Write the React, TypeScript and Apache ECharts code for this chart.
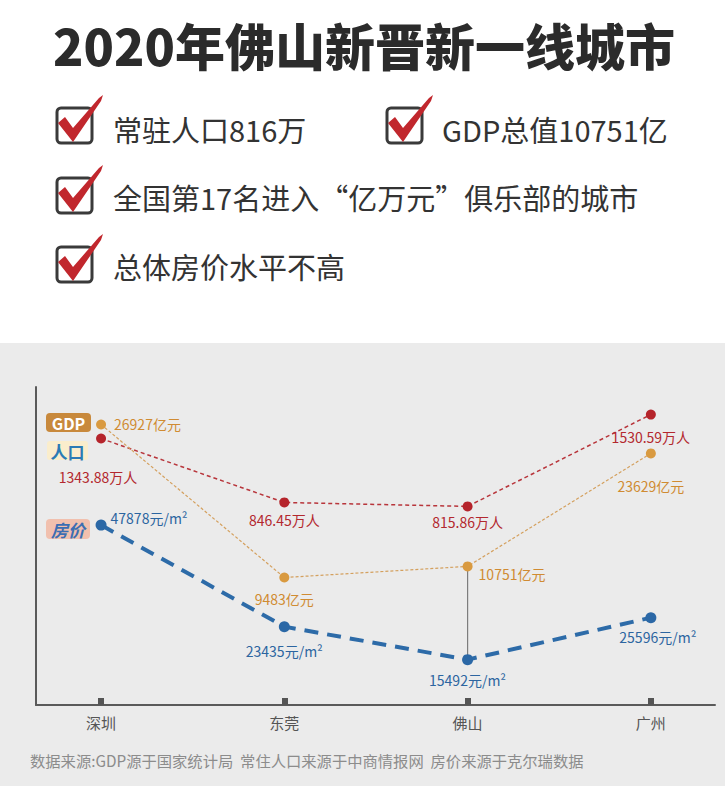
import React, { useEffect, useRef } from "react";
import * as echarts from "echarts";

const TITLE = "2020年佛山新晋新一线城市";
const CHECK_ITEMS = ["常驻人口816万", "GDP总值10751亿", "全国第17名进入“亿万元”俱乐部的城市", "总体房价水平不高"];
const CATEGORIES = ["深圳", "东莞", "佛山", "广州"];
const POPULATION = [1343.88, 846.45, 815.86, 1530.59]; // 万人
const GDP = [26927, 9483, 10751, 23629]; // 亿元
const PRICE = [47878, 23435, 15492, 25596]; // 元/m²
const SERIES_TAGS = ["GDP", "人口", "房价"];
const SOURCE = "数据来源:GDP源于国家统计局  常住人口来源于中商情报网  房价来源于克尔瑞数据";

const FONT = '"Noto Sans CJK SC", "Noto Sans", sans-serif';

const POP_MIN = -730, POP_MAX = 1745;
const GDP_MIN = -5050, GDP_MAX = 31200;
const PRICE_MIN = 4570, PRICE_MAX = 81130;

const POP_LABELS: any[] = [
  { position: "bottom", distance: 26, offset: [-3, 0] },
  { position: "bottom", distance: 6 },
  { position: "bottom", distance: 4 },
  { position: "bottom", distance: 10 },
];
const GDP_LABELS: any[] = [
  { position: "right", distance: 8 },
  { position: "bottom", distance: 9 },
  { position: "right", distance: 6, offset: [0, 8] },
  { position: "bottom", distance: 21 },
];
const PRICE_LABELS: any[] = [
  { position: "right", distance: 4, offset: [0, -7] },
  { position: "bottom", distance: 12 },
  { position: "bottom", distance: 8 },
  { position: "bottom", distance: 7, offset: [7, 0] },
];

function checkbox(bx: number, by: number) {
  return [
    {
      type: "rect",
      shape: { x: bx, y: by, width: 35, height: 35, r: 4 },
      style: { fill: "none", stroke: "#3a3a3a", lineWidth: 3 },
    },
    {
      type: "polygon",
      shape: {
        points: [
          [bx + 1, by + 15],
          [bx + 8, by + 9],
          [bx + 16, by + 20],
          [bx + 42, by - 10],
          [bx + 46, by - 13],
          [bx + 44, by - 7],
          [bx + 16, by + 34],
        ],
      },
      style: { fill: "#c1272d" },
    },
  ];
}

function txt(x: number, y: number, text: string, font: string, fill: string, align = "left", extra: any = {}) {
  return {
    type: "text",
    x,
    y,
    style: {
      text,
      font,
      fill,
      align,
      textAlign: align,
      verticalAlign: "middle",
      textVerticalAlign: "middle",
      ...extra,
    },
  };
}

function buildOption() {
  const graphics: any[] = [
    {
      type: "rect",
      z: -10,
      shape: { x: 0, y: 343, width: 725, height: 443 },
      style: { fill: "#ebebeb" },
    },
    txt(364, 44, TITLE, `900 50px ${FONT}`, "#2b2b2b", "center"),
    ...checkbox(57, 108),
    ...checkbox(387, 108),
    ...checkbox(57, 178),
    ...checkbox(57, 247),
    txt(113, 129, CHECK_ITEMS[0], `29px ${FONT}`, "#333333"),
    txt(442, 129, CHECK_ITEMS[1], `29px ${FONT}`, "#333333"),
    txt(113, 197, CHECK_ITEMS[2], `29px ${FONT}`, "#333333"),
    txt(113, 266, CHECK_ITEMS[3], `29px ${FONT}`, "#333333"),
    // series tags
    { type: "rect", shape: { x: 46, y: 413, width: 45, height: 19, r: 4 }, style: { fill: "#c8893c" } },
    txt(68.5, 423, SERIES_TAGS[0], `bold 16px ${FONT}`, "#ffffff", "center"),
    { type: "rect", shape: { x: 47, y: 441, width: 41, height: 19, r: 3 }, style: { fill: "#faedcc" } },
    txt(67.5, 451, SERIES_TAGS[1], `bold 17px ${FONT}`, "#2b7bb5", "center"),
    { type: "rect", shape: { x: 46, y: 519, width: 44, height: 20, r: 4 }, style: { fill: "#f1c0ae" } },
    txt(68, 529, SERIES_TAGS[2], `italic bold 17px ${FONT}`, "#3c6eb2", "center"),
    txt(30, 760, SOURCE, `15.3px ${FONT}`, "#8c8c8c"),
  ];

  const labelBase = (color: string, size: number) => ({
    show: true,
    color,
    fontSize: size,
    fontFamily: FONT,
  });

  return {
    animation: false,
    backgroundColor: "#ffffff",
    grid: { left: 36, right: 10, top: 387, bottom: 93 },
    xAxis: {
      type: "value",
      min: -0.355,
      max: 3.35,
      axisLine: { show: true, onZero: false, lineStyle: { color: "#5a5a5a", width: 2 } },
      axisTick: {
        show: true,
        customValues: [0, 1, 2, 3],
        inside: true,
        length: 7,
        lineStyle: { color: "#555555", width: 6 },
      },
      axisLabel: {
        customValues: [0, 1, 2, 3],
        formatter: (v: number) => CATEGORIES[Math.round(v)] ?? "",
        color: "#555555",
        fontSize: 15,
        fontFamily: FONT,
        margin: 10,
      },
      splitLine: { show: false },
    },
    yAxis: [
      {
        type: "value",
        min: POP_MIN,
        max: POP_MAX,
        axisLine: { show: true, onZero: false, lineStyle: { color: "#5a5a5a", width: 2 } },
        axisTick: { show: false },
        axisLabel: { show: false },
        splitLine: { show: false },
      },
      { type: "value", min: GDP_MIN, max: GDP_MAX, show: false, splitLine: { show: false } },
      { type: "value", min: PRICE_MIN, max: PRICE_MAX, show: false, splitLine: { show: false } },
    ],
    graphic: { elements: graphics },
    series: [
      {
        type: "custom",
        name: "connector",
        xAxisIndex: 0,
        yAxisIndex: 1,
        z: 1,
        silent: true,
        data: [[2, GDP[2], PRICE[2]]],
        encode: { x: 0, y: 1 },
        renderItem: (params: any, api: any) => {
          const top = api.coord([api.value(0), api.value(1)]);
          const cs = params.coordSys;
          const yb = cs.y + (cs.height * (PRICE_MAX - api.value(2))) / (PRICE_MAX - PRICE_MIN);
          return {
            type: "line",
            shape: { x1: top[0], y1: top[1], x2: top[0], y2: yb },
            style: { stroke: "#7d7d7d", lineWidth: 1.2 },
          };
        },
      },
      {
        type: "line",
        name: "人口",
        xAxisIndex: 0,
        yAxisIndex: 0,
        z: 3,
        symbol: "circle",
        symbolSize: 10,
        itemStyle: { color: "#b5242b" },
        lineStyle: { color: "#b8353b", width: 1.5, type: [4, 3] },
        label: { ...labelBase("#b3282e", 14), formatter: (p: any) => `${p.value[1]}万人` },
        data: POPULATION.map((v, i) => ({ value: [i, v], label: POP_LABELS[i] })),
      },
      {
        type: "line",
        name: "GDP",
        xAxisIndex: 0,
        yAxisIndex: 1,
        z: 3,
        symbol: "circle",
        symbolSize: 10,
        itemStyle: { color: "#d99a40" },
        lineStyle: { color: "#d4a05e", width: 1.2, type: [3, 2] },
        label: { ...labelBase("#d08b32", 14), formatter: (p: any) => `${p.value[1]}亿元` },
        data: GDP.map((v, i) => ({ value: [i, v], label: GDP_LABELS[i] })),
      },
      {
        type: "line",
        name: "房价",
        xAxisIndex: 0,
        yAxisIndex: 2,
        z: 4,
        symbol: "circle",
        symbolSize: 11,
        itemStyle: { color: "#2b68a6" },
        lineStyle: { color: "#2d6ba8", width: 4, type: [14, 9] },
        label: { ...labelBase("#2c65a0", 14), formatter: (p: any) => `${p.value[1]}元/m²` },
        data: PRICE.map((v, i) => ({ value: [i, v], label: PRICE_LABELS[i] })),
      },
    ],
  };
}

export default function App() {
  const ref = useRef<HTMLDivElement>(null);
  useEffect(() => {
    if (!ref.current) return;
    const chart = echarts.init(ref.current, null, { renderer: "svg" });
    chart.setOption(buildOption() as any);
    return () => chart.dispose();
  }, []);
  return (
    <div
      ref={ref}
      style={{ position: "fixed", left: 0, top: 0, width: 725, height: 798 }}
    />
  );
}
